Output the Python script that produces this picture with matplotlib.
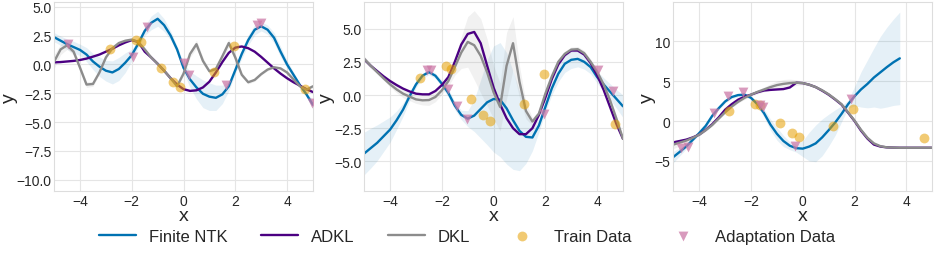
import numpy as np
import matplotlib
matplotlib.use('Agg')
import matplotlib.pyplot as plt

# x grid the curves were read on
xs = np.arange(-5, 5.001, 0.25)

train_x = [-2.85, -1.85, -1.66, -0.87, -0.4, -0.13, 1.17, 1.96, 4.68]
train_y = [1.3, 2.15, 1.95, -0.3, -1.5, -1.95, -0.68, 1.55, -2.15]

# ---- panel 1
ntk1 = [2.35, 2.05, 1.75, 1.5, 1.25, 0.85, 0.25, -0.2, -0.55, -0.7, -0.4, 0.15, 0.8, 1.8, 2.9, 3.6, 3.95,
        3.4, 2.5, 1.3, -0.3, -1.3, -2.0, -2.55, -2.8, -2.9, -2.6, -1.9, -0.5, 0.9, 2.1, 3.0, 3.3, 3.0,
        2.3, 1.1, 0.0, -0.9, -1.8, -2.6, -3.5]
ntk1_sd = [0.4, 0.4, 0.45, 0.5, 0.5, 0.6, 0.7, 0.85, 0.9, 1.0, 1.0, 0.85, 0.5, 0.3, 0.4, 0.6, 0.65,
           0.55, 0.4, 0.3, 0.4, 0.7, 1.0, 1.2, 1.2, 1.1, 0.8, 0.4, 0.3, 0.4, 0.45, 0.45, 0.4, 0.4,
           0.45, 0.45, 0.35, 0.25, 0.15, 0.2, 0.4]
adkl1 = [0.17, 0.2, 0.25, 0.3, 0.38, 0.5, 0.67, 0.85, 1.1, 1.35, 1.65, 1.9, 2.1, 1.95, 1.1, 0.6, 0.05,
         -0.55, -1.2, -1.75, -2.15, -2.3, -2.25, -2.0, -1.5, -0.7, 0.2, 1.0, 1.45, 1.55, 1.4, 1.1, 0.65,
         0.15, -0.35, -0.8, -1.2, -1.55, -1.85, -2.15, -2.4]
dkl1 = [0.25, 1.3, 1.65, 1.1, -0.3, -1.75, -1.7, -0.7, 0.6, 1.4, 1.85, 2.05, 2.15, 1.95, 1.3, 0.6, 0.05,
        -0.55, -1.2, -1.9, -0.8, 0.9, 1.75, 0.3, -0.6, -0.4, 0.7, 1.85, 0.6, -0.9, -1.55, -1.35, -0.85,
        -0.45, -0.25, -0.35, -0.7, -1.3, -1.9, -2.2, -1.9]
dkl1_sd = [0.6, 0.45, 0.35, 0.3, 0.25, 0.25, 0.2, 0.15, 0.1, 0.1, 0.1, 0.1, 0.1, 0.1, 0.1, 0.1, 0.1,
           0.1, 0.1, 0.15, 0.2, 0.3, 0.35, 0.3, 0.15, 0.2, 0.3, 0.35, 0.3, 0.2, 0.15, 0.12, 0.1, 0.1,
           0.1, 0.1, 0.1, 0.1, 0.1, 0.1, 0.15]
adapt1_x = [-4.45, -1.97, -1.4, 0.0, 0.2, 1.65, 2.85, 2.98, 4.97]
adapt1_y = [1.8, 0.6, 3.2, 0.15, -0.9, -1.75, 3.4, 3.55, -3.35]

# ---- panel 2
ntk2 = [-4.4, -4.0, -3.6, -3.1, -2.6, -1.9, -1.1, -0.1, 0.8, 1.45, 1.73, 1.45, 0.85, 0.15, -0.8, -1.5,
        -1.78, -1.55, -1.05, -0.55, -0.3, -0.35, -1.0, -1.9, -2.7, -3.15, -3.2, -2.3, -0.9, 0.5, 1.6,
        2.35, 2.65, 2.72, 2.5, 2.1, 1.35, 0.8, 0.25, -0.3, -0.85]
ntk2_sd = [1.6, 1.5, 1.35, 1.15, 0.95, 0.7, 0.5, 0.35, 0.25, 0.2, 0.2, 0.2, 0.25, 0.3, 0.3, 0.35, 0.6,
           1.2, 2.2, 3.2, 4.0, 4.3, 4.2, 3.7, 3.0, 2.0, 1.0, 0.5, 0.4, 0.5, 0.6, 0.65, 0.65, 0.6, 0.55,
           0.5, 0.45, 0.5, 0.6, 0.7, 0.85]
adkl2 = [2.68, 2.2, 1.8, 1.4, 1.05, 0.75, 0.48, 0.27, 0.1, 0.05, 0.05, 0.3, 0.75, 1.35, 2.5, 3.8, 4.6,
         4.75, 3.9, 2.2, 0.55, -0.7, -1.75, -2.5, -2.95, -2.95, -2.5, -1.5, -0.2, 1.2, 2.3, 3.0, 3.35,
         3.35, 3.05, 2.4, 1.5, 0.4, -0.9, -2.2, -3.3]
dkl2 = [2.73, 2.2, 1.72, 1.25, 0.8, 0.42, 0.1, -0.12, -0.33, -0.4, -0.38, -0.15, 0.35, 1.05, 2.1, 3.2,
        4.0, 3.75, 2.95, 1.7, 0.2, -0.9, 2.2, 3.9, 1.0, -1.2, -2.0, -1.4, 0.1, 1.4, 2.5, 3.1, 3.42, 3.45,
        3.15, 2.5, 1.75, 0.8, -0.4, -1.8, -3.3]
dkl2_sd = [0.2, 0.2, 0.15, 0.15, 0.2, 0.25, 0.3, 0.3, 0.3, 0.35, 0.4, 0.35, 0.3, 0.4, 0.6, 1.2, 1.9,
           2.6, 2.8, 2.5, 2.0, 1.8, 2.5, 2.0, 1.2, 0.6, 0.3, 0.2, 0.2, 0.2, 0.2, 0.2, 0.2, 0.2, 0.2,
           0.2, 0.2, 0.2, 0.2, 0.2, 0.2]
adapt2_x = [-2.58, -2.42, -1.78, -1.43, -1.02, 1.95, 4.03, 4.62]
adapt2_y = [1.9, 1.9, 0.45, -0.8, -1.8, -1.45, 1.9, 0.3]

# ---- panel 3 (finite NTK stops short of x=4)
nan = np.nan
ntk3 = [-4.5, -3.85, -3.17, -2.35, -1.5, -0.6, 0.65, 1.6, 2.45, 3.0, 3.25, 3.3, 2.9, 2.1, 1.0, -0.45,
        -1.6, -2.5, -3.1, -3.4, -3.46, -3.2, -2.8, -2.05, -1.15, -0.2, 0.9, 2.1, 3.1, 3.95, 4.65, 5.45,
        6.1, 6.75, 7.35, 7.85, nan, nan, nan, nan, nan]
ntk3_sd = [0.7, 0.5, 0.3, 0.2, 0.2, 0.2, 0.2, 0.2, 0.2, 0.2, 0.2, 0.2, 0.2, 0.3, 0.5, 0.7, 0.8, 0.7,
           0.5, 0.5, 1.0, 1.8, 2.3, 2.3, 2.0, 1.6, 1.0, 0.5, 1.2, 2.2, 3.0, 3.7, 4.5, 5.0, 5.4, 5.8,
           nan, nan, nan, nan, nan]
adkl3 = [-2.67, -2.5, -2.33, -2.05, -1.7, -1.1, -0.4, 0.45, 1.42, 2.1, 2.67, 3.05, 3.3, 3.6, 3.82, 3.9,
         3.95, 4.0, 4.2, 4.8, 4.75, 4.55, 4.25, 3.8, 3.3, 2.7, 2.05, 1.05, 0.0, -1.2, -2.2, -2.95, -3.2,
         -3.3, -3.33, -3.35, -3.35, -3.35, -3.35, -3.35, -3.35]
dkl3 = [-2.95, -2.7, -2.45, -2.1, -1.7, -1.15, -0.5, 0.3, 1.1, 1.8, 2.4, 2.9, 3.3, 3.65, 3.95, 4.25,
        4.5, 4.65, 4.75, 4.8, 4.75, 4.55, 4.25, 3.85, 3.35, 2.75, 2.1, 1.1, 0.05, -1.1, -2.1, -2.8,
        -3.15, -3.3, -3.33, -3.35, -3.35, -3.35, -3.35, -3.35, -3.35]
dkl3_sd = [0.5, 0.4, 0.3, 0.2, 0.15, 0.15, 0.15, 0.15, 0.15, 0.15, 0.15, 0.2, 0.2, 0.25, 0.3, 0.4, 0.5,
           0.55, 0.5, 0.35, 0.2, 0.15, 0.15, 0.15, 0.15, 0.15, 0.2, 0.2, 0.25, 0.25, 0.2, 0.15, 0.1,
           0.1, 0.1, 0.1, 0.1, 0.1, 0.1, 0.1, 0.1]
adapt3_x = [-4.72, -4.42, -3.42, -2.88, -2.3, -1.65, -1.52, -0.3, 1.85]
adapt3_y = [-3.4, -3.2, 1.0, 3.1, 3.65, 2.0, 1.8, -3.1, 2.8]

panels = [
    (ntk1, ntk1_sd, adkl1, dkl1, dkl1_sd, adapt1_x, adapt1_y, (-11.0, 5.4), [-10, -7.5, -5, -2.5, 0, 2.5, 5], '%.1f'),
    (ntk2, ntk2_sd, adkl2, dkl2, dkl2_sd, adapt2_x, adapt2_y, (-7.25, 7.0), [-5, -2.5, 0, 2.5, 5], '%.1f'),
    (ntk3, ntk3_sd, adkl3, dkl3, dkl3_sd, adapt3_x, adapt3_y, (-8.8, 14.9), [-5, 0, 5, 10], '%d'),
]

c_ntk = '#0072B2'
c_adkl = '#4B0082'
c_dkl = '#8C8C8C'
c_train = '#E69F00'
c_adapt = '#CC79A7'

plt.style.use('seaborn-v0_8-whitegrid')
plt.rcParams['font.family'] = ['Liberation Sans', 'DejaVu Sans']

fig = plt.figure(figsize=(9.34, 2.55), dpi=100)
lefts = [0.058, 0.390, 0.721]
handles = None
for i, (ntk, ntk_sd, adkl, dkl, dkl_sd, ax_x, ax_y, ylim, yt, fmt) in enumerate(panels):
    ax = fig.add_axes([lefts[i], 0.246, 0.277, 0.742])
    ntk = np.array(ntk); ntk_sd = np.array(ntk_sd)
    dkl = np.array(dkl); dkl_sd = np.array(dkl_sd)
    ax.fill_between(xs, ntk - ntk_sd, ntk + ntk_sd, color=c_ntk, alpha=0.1, lw=0)
    ax.fill_between(xs, dkl - dkl_sd, dkl + dkl_sd, color=c_dkl, alpha=0.12, lw=0)
    l1, = ax.plot(xs, ntk, color=c_ntk, lw=1.7, label='Finite NTK')
    l2, = ax.plot(xs, adkl, color=c_adkl, lw=1.7, label='ADKL')
    l3, = ax.plot(xs, dkl, color=c_dkl, lw=1.7, label='DKL')
    s1 = ax.scatter(train_x, train_y, s=50, color=c_train, alpha=0.55, lw=0, zorder=3, label='Train Data')
    s2 = ax.scatter(ax_x, ax_y, s=50, marker='v', color=c_adapt, alpha=0.75, lw=0, zorder=3,
                    label='Adaptation Data')
    if handles is None:
        handles = [l1, l2, l3, s1, s2]
    ax.set_xlim(-5, 5)
    ax.set_ylim(*ylim)
    ax.set_xticks([-4, -2, 0, 2, 4])
    ax.set_yticks(yt)
    ax.set_yticklabels([(fmt % v).replace('-', '\u2212') for v in yt])
    ax.tick_params(labelsize=10, colors='#262626', pad=2)
    ax.set_xlabel('x', fontsize=14, labelpad=-1)
    ax.set_ylabel('y', fontsize=14, labelpad=-1)
    ax.grid(color='#E5E5E5', lw=0.8)
    for sp in ax.spines.values():
        sp.set_color('#DDDDDD')
        sp.set_linewidth(0.8)

fig.legend(handles, [h.get_label() for h in handles], loc='center', bbox_to_anchor=(0.5, 0.07),
           ncol=5, frameon=False, fontsize=12, handlelength=2.2, columnspacing=2.0)
fig.savefig('out.png', dpi=100)
